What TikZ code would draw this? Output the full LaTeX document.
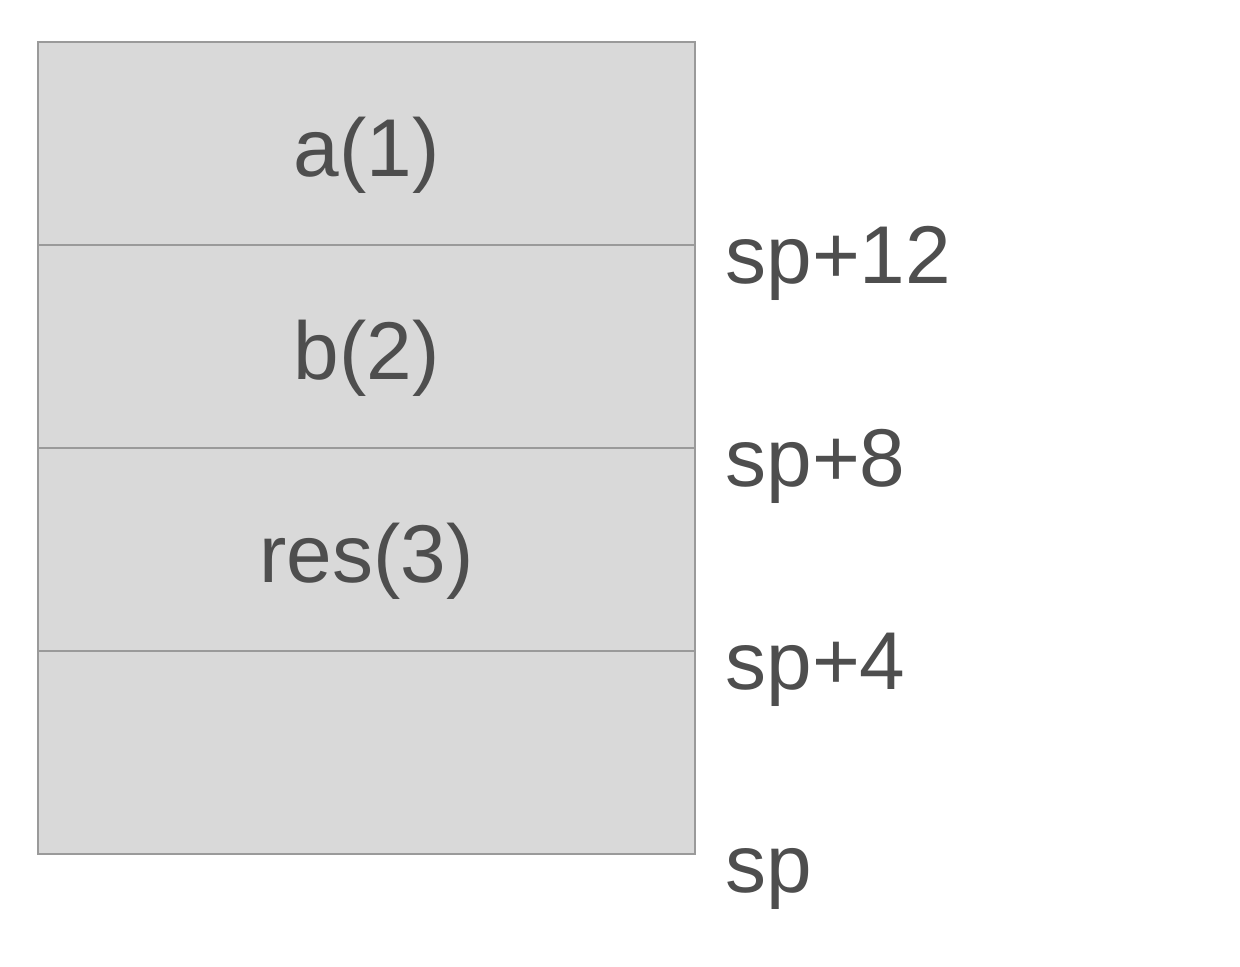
\documentclass[tikz,border=0pt]{standalone}
\usepackage{fontspec}
\setmainfont{Liberation Sans}
\usetikzlibrary{positioning}
\definecolor{cellfill}{HTML}{D9D9D9}
\definecolor{cellline}{HTML}{9A9A9A}
\definecolor{txtgray}{HTML}{4E4E4E}
\tikzset{
  cell/.style={draw=cellline, fill=cellfill, line width=1.3pt,
    minimum width=328.5pt, minimum height=101.5pt,
    inner sep=0pt, outer sep=0pt, text=txtgray,
    text height=41.6pt, text depth=8.6pt,
    font=\fontsize{41}{41}\selectfont},
  addr/.style={text=txtgray, inner sep=0pt, anchor=base west,
    font=\fontsize{41}{41}\selectfont}
}
\begin{document}
\begin{tikzpicture}[x=0.5pt,y=-0.5pt]
    \useasboundingbox (0,0) rectangle (1240,966);
    % cases de la pile
    \foreach \t [count=\i] in {a(1),b(2),res(3),{}}{
      \node[cell] (c\i) at (366.5,143.5+203*\i-203) {\t};
    }
    % adresses
    \foreach \l [count=\i] in {sp+12,sp+8,sp+4,sp}{
      \node[addr] (s\i) at ([xshift=15pt,yshift=-19pt]c\i.south east) {\l};
    }
  \end{tikzpicture}
\end{document}
